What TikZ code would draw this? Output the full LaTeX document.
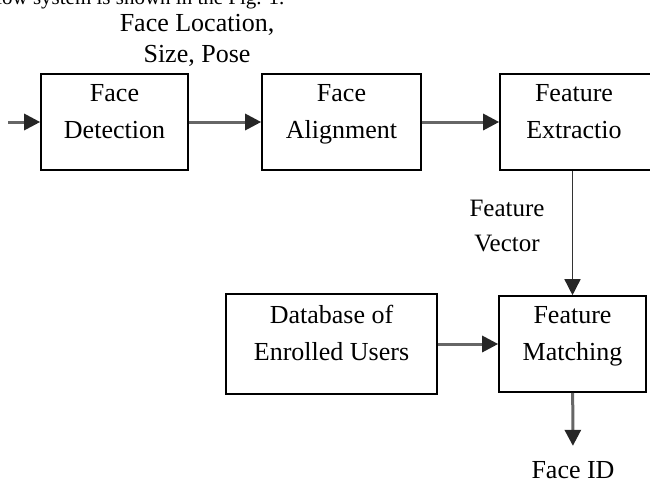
\documentclass[tikz,border=0pt]{standalone}
\usepackage{fontspec}
\setmainfont{Liberation Serif}
\usetikzlibrary{arrows.meta,positioning}

\tikzset{
  block/.style={draw, line width=1.6pt, minimum width=147pt, minimum height=96pt,
    align=center, font=\fontsize{26}{37}\selectfont, text depth=22pt},
  conn/.style={draw=black!60, line width=3pt, -{Triangle[length=16pt,width=16pt,color=black!85]}},
  thin conn/.style={draw=black!80, line width=1.5pt, -{Triangle[length=16pt,width=16pt,color=black!85]}},
  tag/.style={align=center, font=\fontsize{26}{31}\selectfont}
}

\begin{document}
\begin{tikzpicture}[x=1pt,y=-1pt,node distance=2cm,on grid]
  \useasboundingbox (0,0) rectangle (650,488);
  \clip (0,0) rectangle (650,488);
  \node[anchor=base east, font=\fontsize{21}{25}\selectfont] (intro) at (288,4) {low system is shown in the Fig. 1.};

  \node[block] (det) at (114.5,122) {Face\\Detection};
  \node[block, minimum width=159pt] (align) [right=227pt of det] {Face\\Alignment};
  \node[block, minimum width=170pt] (extr) [right=243.5pt of align] {Feature\hspace*{22pt}\\Extractio\hspace*{22pt}};
  \node[block] (match) at (572.5,344) {Feature\\Matching};
  \node[block, minimum width=211pt, minimum height=100pt] (db) [left=241pt of match] {Database of\\Enrolled Users};

  \coordinate (src) at (8,122);
  \node[tag] (loc) at (197,40) {Face Location,\\Size, Pose};
  \node[tag, font=\fontsize{25}{35}\selectfont] (vec) at (507,226) {Feature\\Vector};
  \node[tag] (fid) at (573,470) {Face ID};

  \path[conn] (src) -- (det);
  \path[conn] (det) -- (align);
  \path[conn] (align) -- (extr.west |- align);
  \path[thin conn] (extr.south -| match) -- (match);
  \path[conn] (db) -- (match);
  \path[conn] (match) -- (fid) [shorten >=12pt];
\end{tikzpicture}
\end{document}
